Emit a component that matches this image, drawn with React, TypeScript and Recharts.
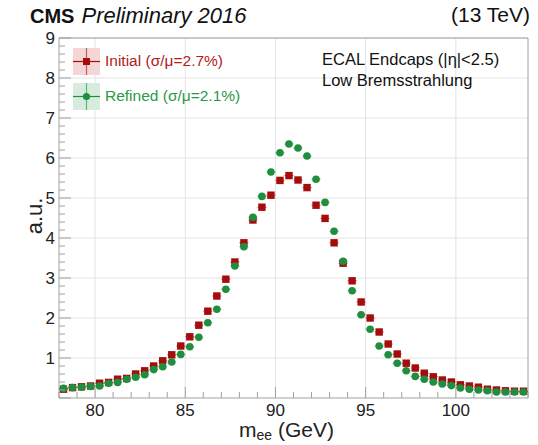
import { ScatterChart, Scatter, XAxis, YAxis, CartesianGrid, ErrorBar, ReferenceArea } from 'recharts';

// bin centres of the m_ee histogram (GeV)
const massBins = [
  78.25, 78.75, 79.25, 79.75, 80.25, 80.75, 81.25, 81.75, 82.25, 82.75,
  83.25, 83.75, 84.25, 84.75, 85.25, 85.75, 86.25, 86.75, 87.25, 87.75,
  88.25, 88.75, 89.25, 89.75, 90.25, 90.75, 91.25, 91.75, 92.25, 92.75,
  93.25, 93.75, 94.25, 94.75, 95.25, 95.75, 96.25, 96.75, 97.25, 97.75,
  98.25, 98.75, 99.25, 99.75, 100.25, 100.75, 101.25, 101.75, 102.25, 102.75,
  103.25, 103.75,
];

const initialValues = [
  0.22, 0.26, 0.28, 0.30, 0.37, 0.39, 0.47, 0.49, 0.60, 0.68,
  0.80, 0.93, 1.08, 1.30, 1.53, 1.82, 2.17, 2.55, 2.97, 3.40,
  3.88, 4.45, 4.77, 5.07, 5.44, 5.56, 5.45, 5.26, 4.82, 4.49,
  3.88, 3.37, 2.93, 2.40, 2.00, 1.65, 1.35, 1.10, 0.87, 0.75,
  0.62, 0.53, 0.45, 0.40, 0.33, 0.30, 0.27, 0.22, 0.20, 0.18,
  0.17, 0.17,
];

const refinedValues = [
  0.24, 0.26, 0.27, 0.29, 0.30, 0.37, 0.39, 0.47, 0.52, 0.58,
  0.71, 0.78, 0.90, 1.09, 1.28, 1.52, 1.88, 2.22, 2.72, 3.30,
  3.78, 4.52, 5.04, 5.65, 6.13, 6.35, 6.25, 6.05, 5.47, 4.89,
  4.17, 3.42, 2.68, 2.08, 1.72, 1.30, 1.08, 0.87, 0.68, 0.54,
  0.47, 0.40, 0.35, 0.31, 0.25, 0.22, 0.20, 0.18, 0.15, 0.15,
  0.15, 0.15,
];

const binHalfWidth = 0.25;

const xTickLabels = [80, 85, 90, 95, 100];
const yTickLabels = [1, 2, 3, 4, 5, 6, 7, 8, 9];

const xMinorTicks: number[] = [];
for (let v = 78; v <= 104; v += 1) xMinorTicks.push(v);
const yMinorTicks: number[] = [];
for (let i = 0; i <= 45; i++) yMinorTicks.push(Math.round(i * 2) / 10);

const RED = '#a50d0d';
const GREEN = '#1f8e3e';
const AXIS = '#a0a0a0';
const FONT = '"Liberation Sans", Arial, Helvetica, sans-serif';

const initialData = massBins.map((m, i) => ({ m, v: initialValues[i], ex: binHalfWidth }));
const refinedData = massBins.map((m, i) => ({ m, v: refinedValues[i], ex: binHalfWidth }));

const XTick = ({ x, y, payload }: any) => {
  const major = xTickLabels.includes(payload.value);
  return (
    <g>
      <line x1={x} x2={x} y1={y} y2={y - (major ? 11 : 6)} stroke={AXIS} />
      {major && (
        <text x={x} y={y + 18} textAnchor="middle" fontSize={17} fill="#222" fontFamily={FONT}>
          {payload.value}
        </text>
      )}
    </g>
  );
};

const YTick = ({ x, y, payload }: any) => {
  const v = payload.value;
  const major = Math.abs(v - Math.round(v)) < 1e-6;
  return (
    <g>
      <line x1={x} x2={x + (major ? 12 : 6)} y1={y} y2={y} stroke={AXIS} />
      {major && v > 0 && (
        <text x={x - 4} y={y + 6} textAnchor="end" fontSize={17} fill="#222" fontFamily={FONT}>
          {Math.round(v)}
        </text>
      )}
    </g>
  );
};

const SquareDot = ({ cx, cy }: any) => <rect x={cx - 3.7} y={cy - 3.7} width={7.4} height={7.4} fill={RED} />;
const RoundDot = ({ cx, cy }: any) => <circle cx={cx} cy={cy} r={3.8} fill={GREEN} />;

const LegendMark = ({ color, bg, square }: { color: string; bg: string; square: boolean }) => (
  <svg width={27} height={27} style={{ position: 'absolute', left: 0, top: 0 }}>
    <rect x={0} y={0} width={27} height={27} fill={bg} />
    <line x1={0} x2={27} y1={13.5} y2={13.5} stroke={color} strokeWidth={1.2} />
    <line x1={13.5} x2={13.5} y1={0} y2={27} stroke={color} strokeWidth={1.2} opacity={0.6} />
    {square ? (
      <rect x={10} y={10} width={7} height={7} fill={color} />
    ) : (
      <circle cx={13.5} cy={13.5} r={3.6} fill={color} />
    )}
  </svg>
);

export default function App() {
  return (
    <div style={{ position: 'absolute', left: 0, top: 0, width: 538, height: 445, background: '#fff', fontFamily: FONT }}>
      <ScatterChart width={538} height={445} margin={{ top: 38, right: 10, bottom: 0, left: 0 }}>
        <CartesianGrid horizontalValues={yTickLabels} verticalValues={xTickLabels} stroke="#e3e3e3" />
        <XAxis
          type="number"
          dataKey="m"
          domain={[78, 104]}
          ticks={xMinorTicks}
          interval={0}
          height={47}
          tickSize={0}
          tickMargin={0}
          tickLine={false}
          axisLine={false}
          tick={<XTick />}
          allowDataOverflow
        />
        <YAxis
          type="number"
          dataKey="v"
          domain={[0, 9]}
          ticks={yMinorTicks}
          interval={0}
          width={59}
          tickSize={0}
          tickMargin={0}
          tickLine={false}
          axisLine={false}
          tick={<YTick />}
          allowDataOverflow
        />
        <ReferenceArea x1={78} x2={104} y1={0} y2={9} fill="none" fillOpacity={0} stroke={AXIS} strokeWidth={1} />
        <Scatter data={initialData} shape={<SquareDot />} isAnimationActive={false}>
          <ErrorBar dataKey="ex" direction="x" width={0} stroke={RED} strokeWidth={1} strokeOpacity={0.7} />
        </Scatter>
        <Scatter data={refinedData} shape={<RoundDot />} isAnimationActive={false}>
          <ErrorBar dataKey="ex" direction="x" width={0} stroke={GREEN} strokeWidth={1} strokeOpacity={0.7} />
        </Scatter>
      </ScatterChart>

      {/* header */}
      <div style={{ position: 'absolute', left: 30, top: 3, fontSize: 21, color: '#111', whiteSpace: 'nowrap' }}>
        <b style={{ fontSize: 20 }}>CMS</b>
        <i style={{ marginLeft: 7, fontSize: 22 }}>Preliminary 2016</i>
      </div>
      <div style={{ position: 'absolute', right: 8, top: 3, fontSize: 21, color: '#111' }}>(13 TeV)</div>

      {/* axis titles */}
      <div
        style={{
          position: 'absolute',
          left: 35,
          top: 216,
          fontSize: 22,
          color: '#222',
          transform: 'translate(-50%, -50%) rotate(-90deg)',
          whiteSpace: 'nowrap',
        }}
      >
        a.u.
      </div>
      <div style={{ position: 'absolute', left: 239, top: 419, fontSize: 21, lineHeight: '21px', color: '#222', whiteSpace: 'nowrap' }}>
        m<sub style={{ fontSize: 14, verticalAlign: -3, lineHeight: '10px' }}>ee</sub> (GeV)
      </div>

      {/* legend */}
      <div style={{ position: 'absolute', left: 73, top: 48, width: 200, height: 27 }}>
        <LegendMark color={RED} bg="#f4d6d6" square />
        <span style={{ position: 'absolute', left: 32, top: 4, fontSize: 15.5, color: '#b31b1b', whiteSpace: 'nowrap' }}>
          Initial (σ/μ=2.7%)
        </span>
      </div>
      <div style={{ position: 'absolute', left: 73, top: 83, width: 200, height: 27 }}>
        <LegendMark color={GREEN} bg="#d6ecdc" square={false} />
        <span style={{ position: 'absolute', left: 32, top: 4, fontSize: 15.5, color: '#2a9a48', whiteSpace: 'nowrap' }}>
          Refined (σ/μ=2.1%)
        </span>
      </div>

      {/* category label */}
      <div style={{ position: 'absolute', left: 322, top: 49, fontSize: 16.5, color: '#111', lineHeight: '21px', whiteSpace: 'nowrap' }}>
        ECAL Endcaps (|η|&lt;2.5)
        <br />
        Low Bremsstrahlung
      </div>
    </div>
  );
}
